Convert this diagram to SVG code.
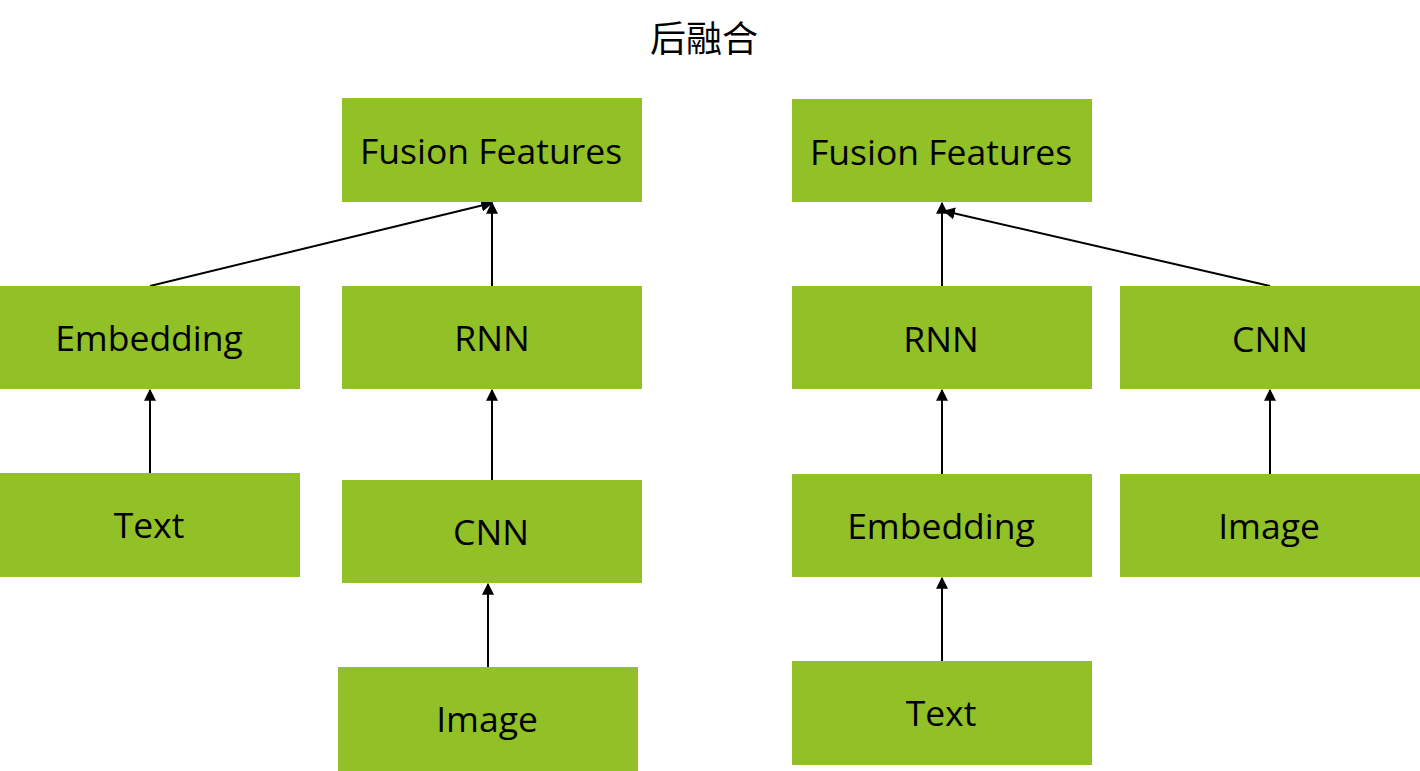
<svg xmlns="http://www.w3.org/2000/svg" width="1420" height="771" viewBox="0 0 1420 771">
<defs>
<style>
.box{fill:#92C127}
.lbl{font-family:"Open Sans","DejaVu Sans",sans-serif;font-size:35.5px;fill:#000;text-anchor:middle}
.title{font-family:"Liberation Serif","Noto Sans CJK SC",serif;font-size:36px;fill:#000;text-anchor:middle}
.edge{stroke:#000;stroke-width:2;fill:none;marker-end:url(#arr)}
</style>
<marker id="arr" viewBox="0 0 10 10" refX="9" refY="5" markerWidth="6" markerHeight="6" markerUnits="strokeWidth" orient="auto">
<path d="M0,0 L10,5 L0,10 z" fill="#000"/>
</marker>
</defs>
<rect width="1420" height="771" fill="#fff"/>
<text class="title" x="704" y="52">后融合</text>
<g id="connectors">
<line class="edge" x1="150" y1="286" x2="492" y2="203"/>
<line class="edge" x1="492" y1="286" x2="492" y2="203"/>
<line class="edge" x1="150" y1="473" x2="150" y2="390"/>
<line class="edge" x1="492" y1="480" x2="492" y2="390"/>
<line class="edge" x1="488" y1="667" x2="488" y2="584"/>
<line class="edge" x1="942" y1="286" x2="942" y2="203"/>
<line class="edge" x1="1270" y1="286" x2="944" y2="211"/>
<line class="edge" x1="942" y1="474" x2="942" y2="390"/>
<line class="edge" x1="1270" y1="474" x2="1270" y2="390"/>
<line class="edge" x1="942" y1="661" x2="942" y2="578"/>
</g>
<g id="fusionL"><rect class="box" x="342" y="98" width="300" height="104"/><text class="lbl" x="491" y="164">Fusion Features</text></g>
<g id="embL"><rect class="box" x="0" y="286" width="300" height="103"/><text class="lbl" x="149" y="351">Embedding</text></g>
<g id="rnnL"><rect class="box" x="342" y="286" width="300" height="103"/><text class="lbl" x="492" y="351">RNN</text></g>
<g id="textL"><rect class="box" x="0" y="473" width="300" height="104"/><text class="lbl" x="149" y="538">Text</text></g>
<g id="cnnL"><rect class="box" x="342" y="480" width="300" height="103"/><text class="lbl" x="491" y="545">CNN</text></g>
<g id="imageL"><rect class="box" x="338" y="667" width="300" height="104"/><text class="lbl" x="487" y="732">Image</text></g>
<g id="fusionR"><rect class="box" x="792" y="99" width="300" height="103"/><text class="lbl" x="941" y="165">Fusion Features</text></g>
<g id="rnnR"><rect class="box" x="792" y="286" width="300" height="103"/><text class="lbl" x="941" y="352">RNN</text></g>
<g id="cnnR"><rect class="box" x="1120" y="286" width="300" height="103"/><text class="lbl" x="1270" y="352">CNN</text></g>
<g id="embR"><rect class="box" x="792" y="474" width="300" height="103"/><text class="lbl" x="941" y="539">Embedding</text></g>
<g id="imageR"><rect class="box" x="1120" y="474" width="300" height="103"/><text class="lbl" x="1269" y="539">Image</text></g>
<g id="textR"><rect class="box" x="792" y="661" width="300" height="104"/><text class="lbl" x="941" y="726">Text</text></g>
</svg>
